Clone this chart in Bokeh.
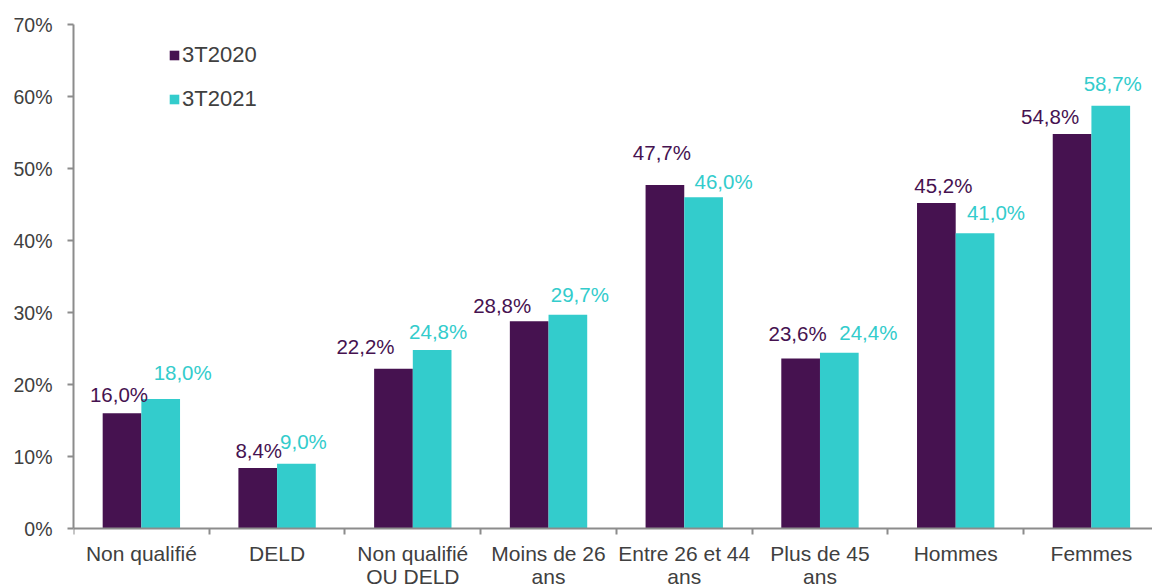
import numpy as np
from bokeh.plotting import figure
from bokeh.models import (ColumnDataSource, Range1d, FixedTicker, LabelSet, Legend, LegendItem)
from bokeh.core.properties import value
from bokeh.embed import file_html
from bokeh.resources import INLINE

categories = ["Non qualifié", "DELD", "Non qualifié\nOU DELD", "Moins de 26\nans",
              "Entre 26 et 44\nans", "Plus de 45\nans", "Hommes", "Femmes"]
series_names = ["3T2020", "3T2021"]
v2020 = [16.0, 8.4, 22.2, 28.8, 47.7, 23.6, 45.2, 54.8]
v2021 = [18.0, 9.0, 24.8, 29.7, 46.0, 24.4, 41.0, 58.7]
y_ticks = [0, 10, 20, 30, 40, 50, 60, 70]
y_tick_labels = ["0%", "10%", "20%", "30%", "40%", "50%", "60%", "70%"]

# styling: pixel nudges of the value labels, as placed by hand in the original
nudge_x_2020 = [-3, 1, -28, -27, -3, -3, 7, -22]
nudge_y_2020 = [7, 6, 11, 4, 21, 14, 6, 6]
nudge_x_2021 = [22, 7, 6, 12, 20, 29, 21, 2]
nudge_y_2021 = [15, 11, 7, 9, 4, 9, 9, 11]

C1 = "#461250"
C2 = "#33CCCC"
TXT = "#404040"
AX = "#8c8c8c"
FONT = "Liberation Sans"

n = len(categories)
centers = np.arange(n) + 0.5
bw = 0.285
Y_MAX = 70
# the frame continues below 0 so the category labels have room
Y_MIN = -Y_MAX * 58 / 504

def fmt(v):
    return f"{v:.1f}".replace(".", ",") + "%"

s1 = ColumnDataSource(dict(x=centers - bw / 2, top=v2020, lab=[fmt(v) for v in v2020],
                           dx=nudge_x_2020, dy=nudge_y_2020))
s2 = ColumnDataSource(dict(x=centers + bw / 2, top=v2021, lab=[fmt(v) for v in v2021],
                           dx=nudge_x_2021, dy=nudge_y_2021))
lines = [c.split("\n") for c in categories]
scat1 = ColumnDataSource(dict(x=centers, y=np.zeros(n), lab=[l[0] for l in lines]))
scat2 = ColumnDataSource(dict(x=centers, y=np.zeros(n), lab=[l[1] if len(l) > 1 else "" for l in lines]))

p = figure(width=1152, height=586, output_backend="svg", toolbar_location=None,
           x_range=Range1d(0, 7.95), y_range=Range1d(Y_MIN, Y_MAX),
           min_border_left=73, min_border_right=0, min_border_top=24, min_border_bottom=0)
p.outline_line_color = None
p.xgrid.visible = False
p.ygrid.visible = False

r1 = p.vbar(x="x", top="top", bottom=0, width=bw, source=s1, fill_color=C1, line_color=None)
r2 = p.vbar(x="x", top="top", bottom=0, width=bw, source=s2, fill_color=C2, line_color=None)

for src, col in ((s1, C1), (s2, C2)):
    p.add_layout(LabelSet(x="x", y="top", text="lab", source=src, x_offset="dx", y_offset="dy",
                          text_align="center", text_baseline="bottom",
                          text_font=value(FONT), text_font_size="20.5px", text_color=col))

# category labels under the 0 line (one label set per text line)
for src, off in ((scat1, -13), (scat2, -36)):
    p.add_layout(LabelSet(x="x", y="y", text="lab", source=src, y_offset=off,
                          text_align="center", text_baseline="top",
                          text_font=value(FONT), text_font_size="21px", text_color=TXT))

# x axis drawn at 0, ticks at category boundaries
p.xaxis.fixed_location = 0
p.xaxis.ticker = FixedTicker(ticks=[], minor_ticks=list(range(n + 1)))
p.xaxis.major_tick_out = 0
p.xaxis.major_tick_in = 0
p.xaxis.minor_tick_out = 6
p.xaxis.minor_tick_in = 0
p.xaxis.minor_tick_line_color = AX
p.xaxis.minor_tick_line_width = 2
p.xaxis.axis_line_color = AX
p.xaxis.axis_line_width = 2
p.xaxis.major_label_standoff = 0

# y axis
p.yaxis.bounds = (0, Y_MAX)
p.yaxis.ticker = FixedTicker(ticks=y_ticks)
p.yaxis.major_label_overrides = {t: l for t, l in zip(y_ticks, y_tick_labels)}
p.yaxis.major_tick_out = 6
p.yaxis.major_tick_in = 0
p.yaxis.minor_tick_line_color = None
p.yaxis.major_tick_line_color = AX
p.yaxis.major_tick_line_width = 2
p.yaxis.axis_line_color = AX
p.yaxis.axis_line_width = 2
p.yaxis.major_label_text_font = FONT
p.yaxis.major_label_text_font_size = "19.5px"
p.yaxis.major_label_text_color = TXT
p.yaxis.major_label_standoff = 15

legend = Legend(items=[LegendItem(label=series_names[0], renderers=[r1]),
                       LegendItem(label=series_names[1], renderers=[r2])],
                location=(95, 474), orientation="vertical",
                glyph_width=12, glyph_height=12, label_standoff=2, spacing=18,
                padding=0, margin=0, border_line_color=None, background_fill_alpha=0,
                label_text_font=FONT, label_text_font_size="22px", label_text_color=TXT)
p.add_layout(legend)

open("out.html", "w").write(file_html(p, INLINE))
